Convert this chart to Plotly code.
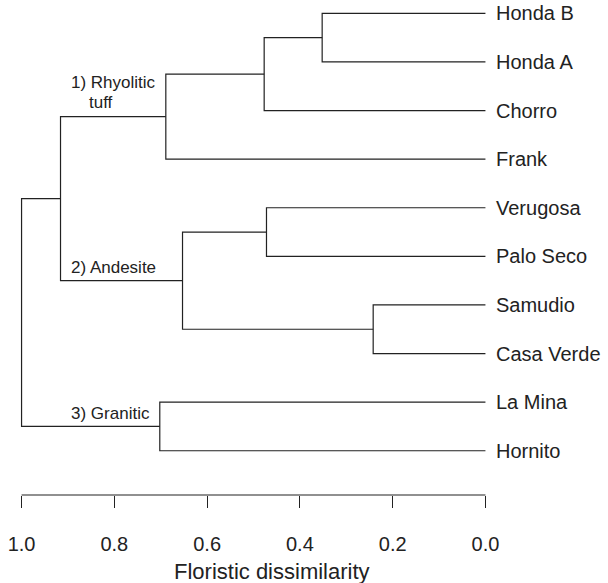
import plotly.graph_objects as go

# ---- data ----
leaf_labels = ["Honda B", "Honda A", "Chorro", "Frank", "Verugosa",
               "Palo Seco", "Samudio", "Casa Verde", "La Mina", "Hornito"]
# merges: (child_a, child_b, dissimilarity); new node ids start at len(leaf_labels)
merge_a = [0, 10, 11, 4, 6, 13, 12, 8, 16]
merge_b = [1, 2, 3, 5, 7, 14, 15, 9, 17]
merge_h = [0.352, 0.477, 0.689, 0.472, 0.242, 0.653, 0.916, 0.702, 1.0]
tick_vals = [1.0, 0.8, 0.6, 0.4, 0.2, 0.0]
tick_text = ["1.0", "0.8", "0.6", "0.4", "0.2", "0.0"]
group_labels = ["1) Rhyolitic", "2) Andesite", "3) Granitic"]
group_nodes = [12, 15, 17]  # node whose branch is labelled

FONT = "Liberation Sans, Arial, Helvetica, sans-serif"
LINE = "#222222"
TXT = "#222222"

# ---- dendrogram geometry ----
n = len(leaf_labels)
pos_y = {i: float(i) for i in range(n)}
pos_h = {i: 0.0 for i in range(n)}
xs, ys = [], []
for k, (a, b, h) in enumerate(zip(merge_a, merge_b, merge_h)):
    node = n + k
    ya, yb = pos_y[a], pos_y[b]
    xs += [pos_h[a], h, h, pos_h[b], None]
    ys += [ya, ya, yb, yb, None]
    pos_y[node] = (ya + yb) / 2
    pos_h[node] = h

fig = go.Figure()
fig.add_trace(go.Scatter(x=xs, y=ys, mode="lines",
                         line=dict(color=LINE, width=1.2),
                         hoverinfo="skip", showlegend=False))

# leaf labels
for i, lab in enumerate(leaf_labels):
    fig.add_annotation(x=0.0, y=pos_y[i], text=lab, showarrow=False,
                       xanchor="left", yanchor="middle", xshift=9,
                       font=dict(family=FONT, size=20, color=TXT))

# group labels
parent_of = {}
for k, (a, b) in enumerate(zip(merge_a, merge_b)):
    parent_of[a] = n + k
    parent_of[b] = n + k
label_xshift = [8, 8, 47]
label_yshift = [34, 13, 13]
for lab, nd, dx, dy in zip(group_labels, group_nodes, label_xshift, label_yshift):
    par = parent_of[nd]
    fig.add_annotation(x=pos_h[par], y=pos_y[nd], text=lab, showarrow=False,
                       xanchor="left", yanchor="middle", xshift=dx, yshift=dy,
                       font=dict(family=FONT, size=17, color=TXT))
# second line of group 1
fig.add_annotation(x=pos_h[parent_of[12]], y=pos_y[12], text="tuff", showarrow=False,
                   xanchor="left", yanchor="middle", xshift=26, yshift=14,
                   font=dict(family=FONT, size=17, color=TXT))

# axis baseline from 1.0 to 0.0
fig.add_shape(type="line", xref="x", yref="paper", x0=tick_vals[0], x1=tick_vals[-1],
              y0=0, y1=0, line=dict(color=LINE, width=1.2))

# axis title
fig.add_annotation(x=0.46, xref="x", y=0, yref="paper", yshift=-76,
                   text="Floristic dissimilarity", showarrow=False,
                   xanchor="center", yanchor="middle",
                   font=dict(family=FONT, size=22, color=TXT))

fig.update_xaxes(range=[1.04, -0.04], tickvals=tick_vals, ticktext=tick_text,
                 ticks="outside", ticklen=12, tickwidth=1.2, tickcolor=LINE,
                 showline=False, showgrid=False, zeroline=False,
                 ticklabelstandoff=19,
                 tickfont=dict(family=FONT, size=20, color=TXT))
fig.update_yaxes(range=[9.91, -0.274], showticklabels=False, showgrid=False,
                 zeroline=False, showline=False, ticks="")

fig.update_layout(width=608, height=583, autosize=False,
                  margin=dict(l=3, r=104, t=0, b=88, pad=0),
                  plot_bgcolor="white", paper_bgcolor="white")

fig.write_html("out.html", config={"displayModeBar": False},
               post_script="document.body.style.margin='0';document.body.style.overflow='hidden';")
